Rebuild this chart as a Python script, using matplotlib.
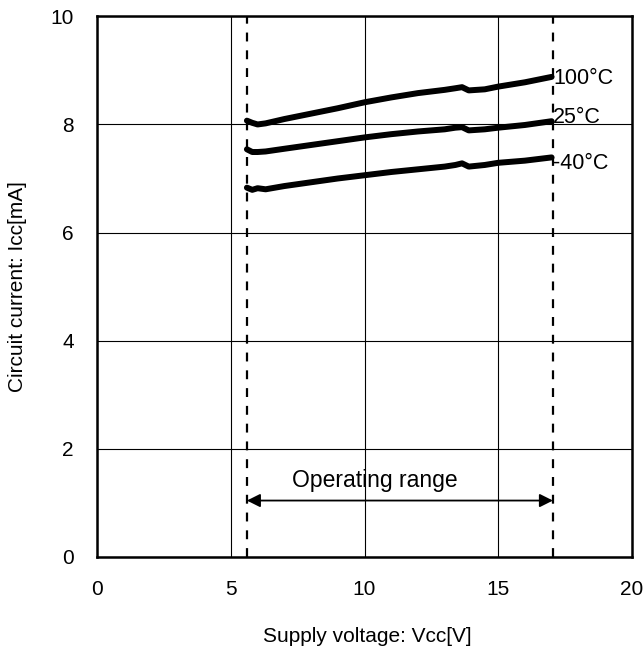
import numpy as np
import matplotlib
matplotlib.use("Agg")
from matplotlib import pyplot as plt

plt.rcParams['font.family'] = ['Liberation Sans', 'DejaVu Sans']

# supply voltage points along the curves
vcc = [5.6, 5.8, 6.0, 6.3, 7, 8, 9, 10, 11, 12, 13, 13.4, 13.65, 13.9, 14.5, 15, 16, 17.0]
icc_100 = [8.07, 8.03, 8.00, 8.02, 8.10, 8.20, 8.30, 8.41, 8.50, 8.58, 8.64, 8.67, 8.69, 8.63, 8.65, 8.70, 8.78, 8.88]
icc_25 = [7.54, 7.49, 7.49, 7.50, 7.55, 7.62, 7.69, 7.76, 7.82, 7.87, 7.91, 7.94, 7.95, 7.89, 7.91, 7.94, 7.99, 8.06]
icc_m40 = [6.83, 6.79, 6.82, 6.80, 6.86, 6.93, 7.00, 7.06, 7.12, 7.17, 7.22, 7.25, 7.28, 7.22, 7.25, 7.29, 7.33, 7.39]
labels = ['100°C', '25°C', '-40°C']
label_y = [8.85, 8.12, 7.28]
op_range = [5.6, 17.05]

fig = plt.figure(figsize=(6.44, 6.55), dpi=100)
ax = fig.add_axes([0.151, 0.150, 0.830, 0.825])

ax.set_xlim(0, 20)
ax.set_ylim(0, 10)
ax.set_xticks([0, 5, 10, 15, 20])
ax.set_yticks([0, 2, 4, 6, 8, 10])
ax.grid(True, color='black', linewidth=0.8)
ax.tick_params(length=0, labelsize=15)
ax.tick_params(axis='x', pad=17)
ax.tick_params(axis='y', pad=17)
for s in ax.spines.values():
    s.set_linewidth(1.8)

for ys in [icc_100, icc_25, icc_m40]:
    ax.plot(vcc, ys, color='black', linewidth=4.3, solid_capstyle='round',
            solid_joinstyle='round', zorder=3)

for t, y in zip(labels, label_y):
    ax.text(17.05, y, t, fontsize=15.5, va='center', ha='left')

for x in op_range:
    ax.axvline(x, color='black', linewidth=1.6, linestyle=(0, (4, 4)), zorder=2)

ax.annotate('', xy=(op_range[0], 1.04), xytext=(op_range[1], 1.04),
            arrowprops=dict(arrowstyle='<|-|>', color='black', lw=1.3,
                            mutation_scale=20, shrinkA=0, shrinkB=0))
ax.text(10.4, 1.2, 'Operating range', fontsize=16.5, ha='center', va='bottom')

ax.set_xlabel('Supply voltage: Vcc[V]', fontsize=15, va='center')
ax.xaxis.set_label_coords(0.505, -0.148)
ax.set_ylabel('Circuit current: Icc[mA]', fontsize=15, va='center')
ax.yaxis.set_label_coords(-0.15, 0.5)

plt.savefig('out.png')
